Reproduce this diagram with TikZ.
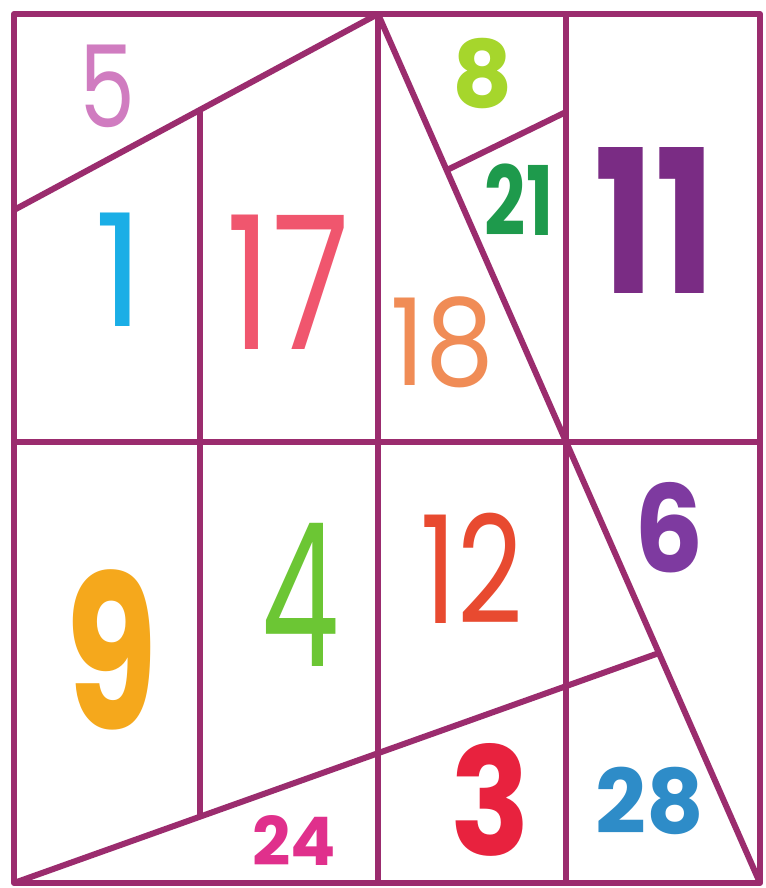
\documentclass[tikz,border=0pt]{standalone}
\usepackage{fontspec}
\setmainfont{Poppins}
\definecolor{gridc}{HTML}{9B2C6E}
\definecolor{c5}{HTML}{D07CC0}
\definecolor{c8}{HTML}{A6D62C}
\definecolor{c21}{HTML}{1E9A4C}
\definecolor{c11}{HTML}{7A2C84}
\definecolor{c1}{HTML}{1AAEE6}
\definecolor{c17}{HTML}{F0566E}
\definecolor{c18}{HTML}{F08C56}
\definecolor{c9}{HTML}{F5A81C}
\definecolor{c4}{HTML}{6CC634}
\definecolor{c12}{HTML}{E84A30}
\definecolor{c6}{HTML}{7E3AA0}
\definecolor{c24}{HTML}{E0308C}
\definecolor{c3}{HTML}{E8223E}
\definecolor{c28}{HTML}{2E8CC8}
\tikzset{
  gridline/.style={draw=gridc, line width=6pt, line join=round},
  num/.style={inner sep=0pt, anchor=center},
}
\newcommand{\nf}[3]{\scalebox{#3}[1]{\fontsize{#1}{#1}\selectfont #2}}
\begin{document}
\begin{tikzpicture}[x=1pt,y=-1pt]
\useasboundingbox (0,0) rectangle (765,888);
\fill[white] (0,0) rectangle (765,888);
\coordinate (TL) at (14,14);
\coordinate (TR) at (760,14);
\coordinate (BR) at (760,883);
\coordinate (BL) at (14,883);
\coordinate (A) at (378,14);
\coordinate (P1) at (14,210);
\coordinate (Q) at (200,110);
\coordinate (Qb) at (200,817);
\coordinate (H1) at (14,442);
\coordinate (H2) at (760,442);
\coordinate (V3t) at (566,14);
\coordinate (V3b) at (566,883);
\coordinate (V2b) at (378,883);
\coordinate (S1) at (447,170);
\coordinate (S2) at (566,112);
\coordinate (D) at (659,653);
\draw[gridline] (TL) rectangle (BR);
\draw[gridline] (P1) -- (A);
\draw[gridline] (A) -- (BR);
\draw[gridline] (Q) -- (Qb);
\draw[gridline] (A) -- (V2b);
\draw[gridline] (V3t) -- (V3b);
\draw[gridline] (H1) -- (H2);
\draw[gridline] (S1) -- (S2);
\draw[gridline] (BL) -- (D);
\node[num, text=c5] (n5) at (107,86) {\nf{114}{5}{0.78}};
\node[num, text=c8] (n8) at (483,74) {\nf{93}{\bfseries 8}{1}};
\node[num, text=c21] (n21) at (519,200) {\nf{96}{\bfseries 21}{0.75}};
\node[num, text=c11] (n11) at (655,220) {\nf{200}{\bfseries 11}{0.8}};
\node[num, text=c1] (n1) at (120,270) {\nf{157}{1}{1}};
\node[num, text=c17] (n17) at (288,282) {\nf{186}{17}{0.76}};
\node[num, text=c18] (n18) at (442,342) {\nf{121}{18}{0.9}};
\node[num, text=c9] (n9) at (112,650) {\nf{214}{\bfseries 9}{0.7}};
\node[num, text=c4] (n4) at (300,595) {\nf{200}{4}{0.62}};
\node[num, text=c12] (n12) at (472,568) {\nf{150}{12}{0.76}};
\node[num, text=c6] (n6) at (669,528) {\nf{121}{\bfseries 6}{0.9}};
\node[num, text=c24] (n24) at (294,840) {\nf{67}{\bfseries 24}{1}};
\node[num, text=c3] (n3) at (490,800) {\nf{150}{\bfseries 3}{0.88}};
\node[num, text=c28] (n28) at (650,801) {\nf{89}{\bfseries 28}{1}};
\end{tikzpicture}
\end{document}
